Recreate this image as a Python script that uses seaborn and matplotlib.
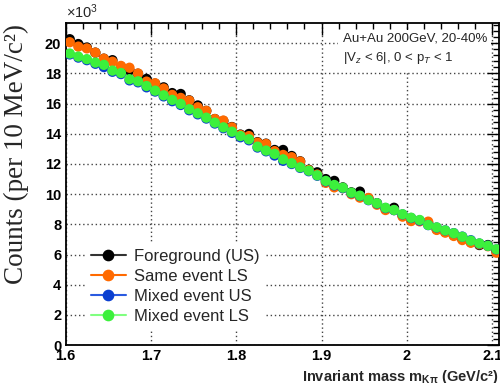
import numpy as np
import pandas as pd
import matplotlib
matplotlib.use("Agg")
import matplotlib.pyplot as plt
from matplotlib.lines import Line2D
from matplotlib.ticker import MultipleLocator
import seaborn as sns

# ---------------- data (counts in units of 10^3) ----------------
mass = [1.605 + 0.01 * i for i in range(51)]  # bin centres, 10 MeV bins

foreground_us = [20.27, 19.95, 19.72, 19.38, 18.98, 18.88, 18.45, 18.20, 17.98, 17.64,
                 17.33, 17.08, 16.70, 16.64, 16.22, 15.88, 15.52, 14.98, 14.85, 14.45,
                 13.95, 13.99, 13.45, 13.35, 12.93, 12.93, 12.53, 12.18, 11.62, 11.45,
                 11.00, 10.88, 10.45, 10.12, 10.17, 9.72, 9.40, 9.05, 9.10, 8.58,
                 8.30, 8.25, 8.10, 7.68, 7.50, 7.28, 7.02, 6.82, 6.63, 6.63, 6.22]

same_event_ls = [20.07, 19.78, 19.66, 19.38, 18.98, 18.78, 18.50, 18.38, 18.00, 17.46,
                 17.35, 17.00, 16.58, 16.38, 16.20, 15.76, 15.52, 14.98, 14.88, 14.43,
                 13.92, 13.85, 13.42, 13.33, 12.85, 12.60, 12.45, 12.16, 11.60, 11.30,
                 10.75, 10.45, 10.40, 10.00, 9.77, 9.75, 9.30, 8.95, 8.95, 8.51,
                 8.22, 8.20, 8.18, 7.63, 7.45, 7.23, 6.96, 6.78, 6.68, 6.55, 6.12]

mixed_event_us = [19.26, 19.05, 18.88, 18.64, 18.42, 18.11, 17.96, 17.54, 17.41, 17.08,
                  16.80, 16.48, 16.16, 15.91, 15.56, 15.29, 15.01, 14.68, 14.37, 14.06,
                  13.77, 13.57, 13.09, 12.84, 12.56, 12.21, 12.00, 11.74, 11.52, 11.22,
                  10.85, 10.58, 10.40, 10.07, 9.88, 9.60, 9.38, 9.08, 8.94, 8.66,
                  8.42, 8.25, 7.95, 7.79, 7.60, 7.42, 7.19, 6.95, 6.73, 6.58, 6.34]

mixed_event_ls = [19.32, 19.12, 18.95, 18.72, 18.57, 18.19, 18.03, 17.62, 17.48, 17.17,
                  16.86, 16.55, 16.25, 15.98, 15.63, 15.36, 15.07, 14.74, 14.43, 14.14,
                  13.85, 13.64, 13.15, 12.89, 12.67, 12.31, 12.05, 11.78, 11.56, 11.25,
                  10.88, 10.61, 10.43, 10.10, 9.90, 9.62, 9.40, 9.10, 8.95, 8.67,
                  8.44, 8.29, 7.96, 7.80, 7.60, 7.41, 7.18, 6.92, 6.74, 6.58, 6.35]

series_names = ["Foreground (US)", "Same event LS", "Mixed event US", "Mixed event LS"]
series_values = [foreground_us, same_event_ls, mixed_event_us, mixed_event_ls]
series_colors = ["#000000", "#ff6a00", "#0a3fd0", "#3cf03c"]
line_colors = ["#333333", "#ff6a00", "#2a5ae0", "#80ff80"]

df = pd.concat([pd.DataFrame({"mass": mass, "counts": v, "series": n})
                for n, v in zip(series_names, series_values)], ignore_index=True)

# ---------------- style ----------------
sns.set_theme(style="white")
plt.rcParams["font.family"] = ["Liberation Sans", "DejaVu Sans"]
plt.rcParams["mathtext.fontset"] = "custom"
plt.rcParams["mathtext.rm"] = "Liberation Sans"
plt.rcParams["mathtext.it"] = "Liberation Sans:italic"
plt.rcParams["mathtext.bf"] = "Liberation Sans:bold"

fig = plt.figure(figsize=(5.0, 3.83), dpi=100)
ax = fig.add_axes([0.131, 0.099, 0.867, 0.842])

ms = 7.4
sns.scatterplot(data=df, x="mass", y="counts", hue="series",
                hue_order=series_names, palette=series_colors,
                s=ms ** 2, edgecolor="none", linewidth=0, legend=False,
                ax=ax, zorder=3)

ax.set_xlim(1.6, 2.108)
ax.set_ylim(0, 21.37)

ax.xaxis.set_major_locator(MultipleLocator(0.1))
ax.xaxis.set_minor_locator(MultipleLocator(0.02))
ax.yaxis.set_major_locator(MultipleLocator(2))
ax.yaxis.set_minor_locator(MultipleLocator(0.4))
ax.xaxis.set_major_formatter(matplotlib.ticker.FuncFormatter(lambda v, p: f"{v:g}"))

ax.tick_params(which="both", direction="in", top=True, right=True,
               colors="black", width=1.0)
ax.tick_params(which="major", length=8.5, labelsize=10.5, pad=3)
ax.tick_params(which="minor", length=4)
for lab in ax.get_xticklabels() + ax.get_yticklabels():
    lab.set_fontweight("bold")

for sp in ax.spines.values():
    sp.set_color("black")
    sp.set_linewidth(1.3)

ax.grid(True, which="major", color="#444444", linestyle=(0, (1, 2)), linewidth=1.0)
ax.set_axisbelow(True)

ax.set_xlabel(r"Invariant mass m$_{\mathbf{K\pi}}$ (GeV/c²)", fontsize=10.5,
              fontweight="bold", loc="right")
ax.xaxis.set_label_coords(1.0, -0.072)
ax.set_ylabel("Counts (per 10 MeV/c²)", fontsize=19.5, family=["Liberation Serif"],
              loc="top")
ax.yaxis.set_label_coords(-0.085, 0.995)

fig.text(0.131, 0.945, r"×10$^{3}$", fontsize=10.5, ha="left", va="bottom")

# info box
ax.text(0.639, 0.97, "Au+Au 200GeV, 20-40%\n|V$_{z}$ < 6|, 0 < p$_{T}$ < 1",
        transform=ax.transAxes, fontsize=9.5, ha="left", va="top", linespacing=1.55,
        bbox=dict(facecolor="white", edgecolor="none", pad=3), zorder=5)

handles = [Line2D([0], [0], color=lc, marker="o", markersize=ms, markerfacecolor=c,
                  markeredgecolor=c, linewidth=1.5)
           for c, lc in zip(series_colors, line_colors)]
leg = ax.legend(handles, series_names, loc="lower left", bbox_to_anchor=(0.047, 0.05),
                borderaxespad=0, frameon=True, fontsize=12, handlelength=2.1,
                handletextpad=0.5, labelspacing=0.3, borderpad=0.3)
leg.get_frame().set_facecolor("white")
leg.get_frame().set_edgecolor("none")
leg.get_frame().set_alpha(1)
leg.set_zorder(6)

fig.savefig("out.png", dpi=100)
